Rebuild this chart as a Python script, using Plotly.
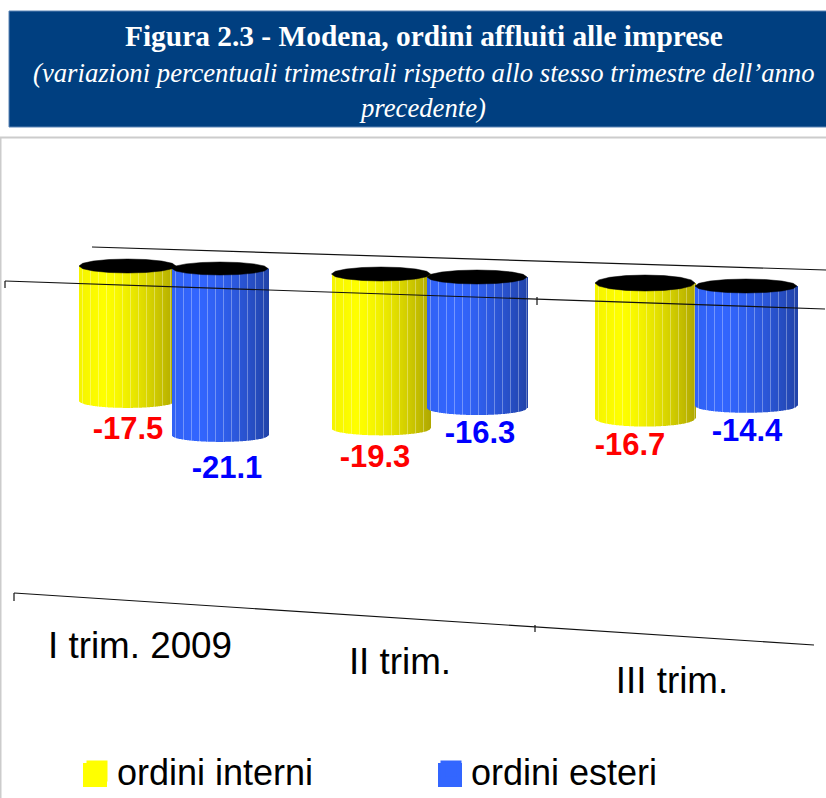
import numpy as np
import plotly.graph_objects as go

# ---- data
categories = ["I trim. 2009", "II trim.", "III trim."]
ordini_interni = [-17.5, -19.3, -16.7]
ordini_esteri = [-21.1, -16.3, -14.4]
series_names = ["ordini interni", "ordini esteri"]

# ---- layout constants (pixels of the 826x798 canvas)
W, H = 826, 798
K = 8.0
Y0 = 280.0
def U(py):
    return (Y0 - py) / K

# cylinder geometry: centre x, half width, top centre py, half ellipse height, perspective
geo_int = [(127.5, 48.5, 266, 7, 0.964), (381, 49.5, 274, 7, 1.0), (645, 50, 283, 8, 1.015)]
geo_est = [(220, 48, 268.5, 6.5, 0.989), (477, 50, 277, 7, 1.005), (746, 51, 286, 7, 1.04)]
col_int = ((255, 255, 0), (176, 168, 0))
col_est = ((51, 102, 255), (34, 68, 170))
FACETS = 16
STREAK = 8

def shade(base, dark, t, streak):
    # t in -1..1; brightest near t=-0.5
    f = np.clip((t + 0.5) / 1.5, 0, 1) ** 1.5
    if t < -0.5:
        f = (-0.5 - t) * 0.25
    c = np.array(base) * (1 - f) + np.array(dark) * f
    if streak:
        c = c + (255 - c) * 0.32
    return "rgb(%d,%d,%d)" % tuple(c)

def ell(t):
    return np.sqrt(np.clip(1 - t * t, 0, 1))

facet_t = np.cos(np.linspace(np.pi, 0, FACETS + 1))
wob = ell(facet_t)

def cylinder(value, geo, cols):
    cx, a, top, b, p = geo
    xs = np.arange(round(cx - a), round(cx + a) + 1) + 0.5
    ts = (xs - cx) / a
    drop = np.interp(ts, facet_t, wob) * b
    colors = [shade(cols[0], cols[1], t, i % STREAK == 3) for i, t in enumerate(ts)]
    bar = go.Bar(x=xs, y=value * p - drop / K, base=U(top), width=1.0,
                 marker=dict(color=colors, line=dict(width=0)),
                 showlegend=False, hoverinfo="skip")
    ang = np.linspace(0, 2 * np.pi, FACETS + 1)
    cap = go.Scatter(x=cx + a * np.cos(ang), y=U(top) + b / K * np.sin(ang), mode="lines",
                     fill="toself", fillcolor="black", line=dict(color="black", width=0.5),
                     showlegend=False, hoverinfo="skip")
    return bar, cap

fig = go.Figure()
caps = []
for i in range(3):
    for v, g, c in ((ordini_interni[i], geo_int[i], col_int), (ordini_esteri[i], geo_est[i], col_est)):
        b_, c_ = cylinder(v, g, c)
        fig.add_trace(b_)
        caps.append(c_)
for c_ in caps:
    fig.add_trace(c_)

# front axis line drawn above the cylinders
def seg(x0, y0, x1, y1, color="#111111", w=1.2):
    return go.Scatter(x=[x0, x1], y=[U(y0), U(y1)], mode="lines", line=dict(color=color, width=w),
                      showlegend=False, hoverinfo="skip")
for s in (seg(5, 281, 825, 309), seg(5, 281, 5, 288), seg(537, 297, 537, 305),
          seg(14, 593, 814, 645), seg(14, 593, 14, 601), seg(535, 625, 535, 632)):
    fig.add_trace(s)

# data labels
lab_int = [(128, 431), (375, 459), (630, 447)]
lab_est = [(227, 470), (480, 435), (747, 433)]
fig.add_trace(go.Scatter(x=[p[0] for p in lab_int], y=[U(p[1]) for p in lab_int],
                         text=["%.1f" % v for v in ordini_interni], mode="text",
                         textfont=dict(family="Liberation Sans", size=31, color="#ff0000", weight="bold"),
                         showlegend=False, hoverinfo="skip"))
fig.add_trace(go.Scatter(x=[p[0] for p in lab_est], y=[U(p[1]) for p in lab_est],
                         text=["%.1f" % v for v in ordini_esteri], mode="text",
                         textfont=dict(family="Liberation Sans", size=31, color="#0000ff", weight="bold"),
                         showlegend=False, hoverinfo="skip"))
# category labels
cat_pos = [(140, 649), (400, 665), (672, 684)]
fig.add_trace(go.Scatter(x=[p[0] for p in cat_pos], y=[U(p[1]) for p in cat_pos], text=categories,
                         mode="text", textfont=dict(family="Liberation Sans", size=36.8, color="black"),
                         showlegend=False, hoverinfo="skip"))
# legend entries
legend_colors = ("#ffff00", "#3366ff")
for name, col in zip(series_names, legend_colors):
    fig.add_trace(go.Scatter(x=[None], y=[None], mode="markers", name=name,
                             marker=dict(symbol="square", size=24, color=col, line=dict(color=col, width=8))))

swatches = [dict(type="rect", xref="paper", yref="paper", x0=x / W, x1=(x + 24) / W,
                 y0=1 - 787 / H, y1=1 - 763 / H, fillcolor=col, line=dict(width=0), layer="above")
            for x, col in zip((83, 438), legend_colors)]

fig.update_layout(
    width=W, height=H, margin=dict(l=0, r=0, t=0, b=0, autoexpand=False), paper_bgcolor="white",
    plot_bgcolor="white", barmode="overlay", showlegend=True,
    xaxis=dict(range=[0, W], visible=False, fixedrange=True),
    yaxis=dict(range=[U(H), U(0)], visible=False, fixedrange=True),
    legend=dict(orientation="h", x=77 / W, y=1 - 771 / H, xanchor="left", yanchor="middle",
                font=dict(family="Liberation Sans", size=36, color="black"),
                itemsizing="trace", entrywidth=309, entrywidthmode="pixels", bgcolor="rgba(0,0,0,0)"),
    shapes=[
        dict(type="rect", xref="paper", yref="paper", x0=9 / W, x1=1.01, y0=1 - 127 / H, y1=1 - 11 / H,
             fillcolor="#003f80", line=dict(color="#5b84b5", width=1), layer="below"),
        dict(type="line", xref="paper", yref="paper", x0=0, x1=1, y0=1 - 137.5 / H, y1=1 - 137.5 / H,
             line=dict(color="#cccccc", width=2), layer="below"),
        dict(type="line", xref="paper", yref="paper", x0=0.5 / W, x1=0.5 / W, y0=0, y1=1 - 137.5 / H,
             line=dict(color="#cccccc", width=2), layer="below"),
        dict(type="line", xref="x", yref="y", x0=92, x1=826, y0=U(247), y1=U(270),
             line=dict(color="#111111", width=1.2), layer="below"),
    ] + swatches,
    annotations=[
        dict(xref="paper", yref="paper", x=424 / W, y=1 - 36 / H, showarrow=False, yanchor="middle",
             text="<b>Figura 2.3 - Modena, ordini affluiti alle imprese</b>",
             font=dict(family="Liberation Serif", size=29.4, color="white")),
        dict(xref="paper", yref="paper", x=424 / W, y=1 - 73 / H, showarrow=False, yanchor="middle",
             text="<i>(variazioni percentuali trimestrali rispetto allo stesso trimestre dell’anno</i>",
             font=dict(family="Liberation Serif", size=26.7, color="white")),
        dict(xref="paper", yref="paper", x=422.5 / W, y=1 - 108 / H, showarrow=False, yanchor="middle",
             text="<i>precedente)</i>",
             font=dict(family="Liberation Serif", size=26.7, color="white")),
    ],
)
fig.write_html("out.html", post_script="document.body.style.margin='0';document.body.style.overflow='hidden';",
               config={"displayModeBar": False})
